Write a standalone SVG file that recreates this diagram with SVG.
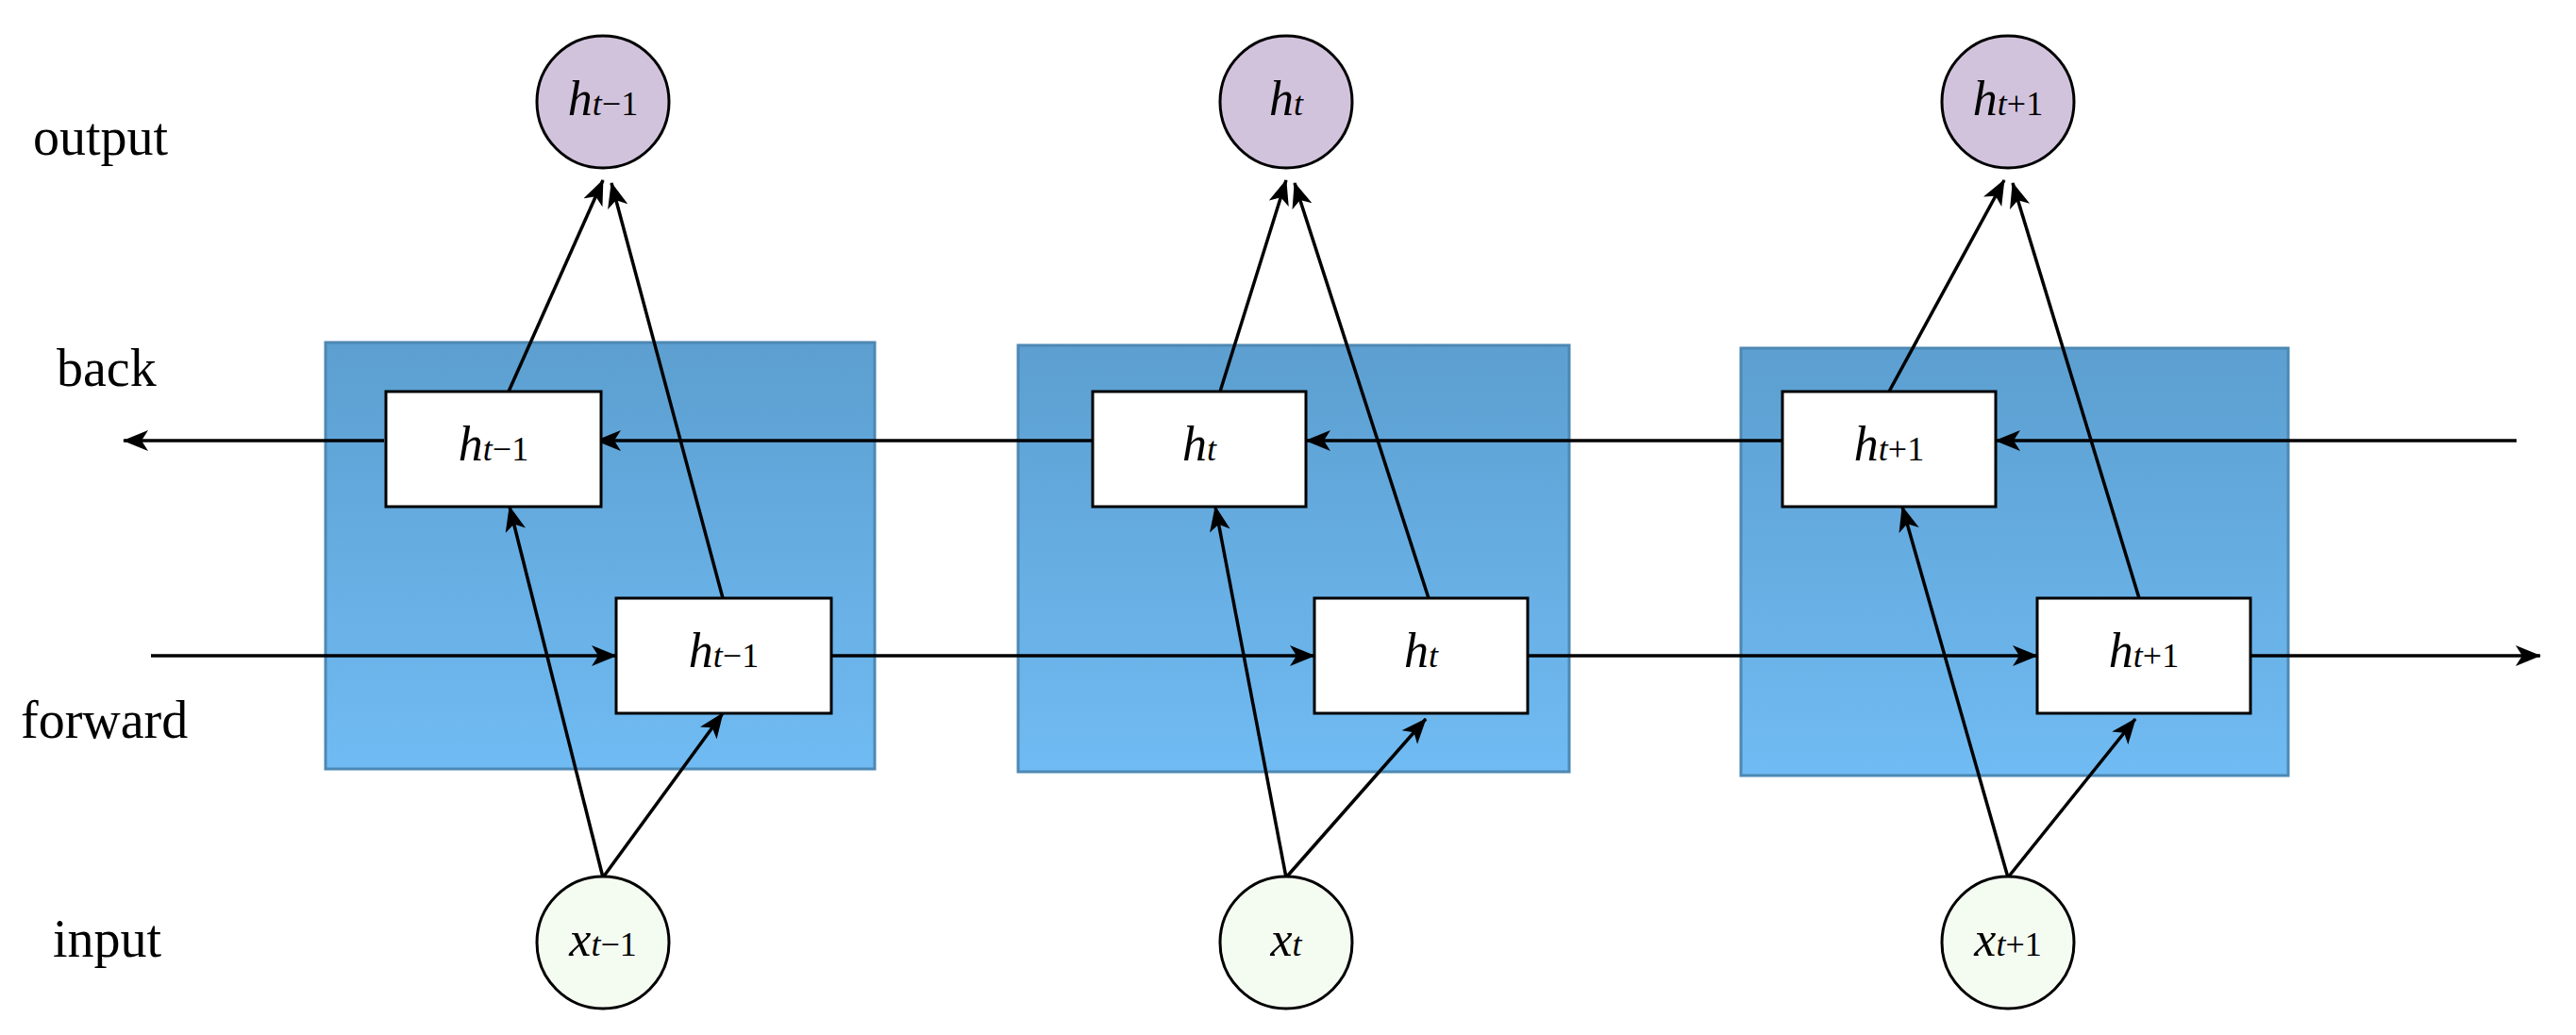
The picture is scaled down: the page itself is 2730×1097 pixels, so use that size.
<svg xmlns="http://www.w3.org/2000/svg" width="2730" height="1097" viewBox="0 0 2730 1097">
<style>
.lbl{font-family:"Liberation Serif",serif;font-size:56px;fill:#000}
.m{font-family:"Liberation Serif",serif;font-size:52px;font-style:italic;fill:#000}
.s{font-size:36px}
.u{font-style:normal}
.blk{stroke:#4d88b3;stroke-width:3;fill:url(#bg)}
.box{fill:#fff;stroke:#000;stroke-width:3}
.out{fill:#d2c3dd;stroke:#000;stroke-width:3}
.in{fill:#f4fbf1;stroke:#000;stroke-width:3}
.c{stroke:#000;stroke-width:3.5;fill:none;marker-end:url(#ah)}
</style>
<defs>
<linearGradient id="bg" x1="0" y1="0" x2="0" y2="1"><stop offset="0" stop-color="#5c9fd0"/><stop offset="1" stop-color="#70bbf3"/></linearGradient>
<marker id="ah" markerUnits="userSpaceOnUse" markerWidth="30" markerHeight="24" refX="26" refY="11" orient="auto"><path d="M0,0 L27,11 L0,22 L7,11 z" fill="#000"/></marker>
</defs>
<rect width="2730" height="1097" fill="#fff"/>
<g id="labels">
<text class="lbl" x="35" y="164">output</text>
<text class="lbl" x="60" y="409">back</text>
<text class="lbl" x="22" y="782">forward</text>
<text class="lbl" x="56" y="1014">input</text>
</g>
<g id="blocks">
<rect class="blk" x="345" y="363" width="582" height="452"/>
<rect class="blk" x="1079" y="366" width="584" height="452"/>
<rect class="blk" x="1845" y="369" width="580" height="453"/>
</g>
<g id="connectors">
<line class="c" x1="2667" y1="467" x2="2115" y2="467"/>
<line class="c" x1="1889" y1="467" x2="1384" y2="467"/>
<line class="c" x1="1158" y1="467" x2="632" y2="467"/>
<line class="c" x1="407" y1="467" x2="131" y2="467"/>
<line class="c" x1="160" y1="695" x2="653" y2="695"/>
<line class="c" x1="881" y1="695" x2="1393" y2="695"/>
<line class="c" x1="1619" y1="695" x2="2159" y2="695"/>
<line class="c" x1="2385" y1="695" x2="2692" y2="695"/>
<line class="c" x1="539" y1="415" x2="639" y2="191"/>
<line class="c" x1="766" y1="634" x2="648" y2="194"/>
<line class="c" x1="639" y1="930" x2="540" y2="537"/>
<line class="c" x1="639" y1="930" x2="766" y2="756"/>
<line class="c" x1="1293" y1="415" x2="1363" y2="191"/>
<line class="c" x1="1514" y1="634" x2="1372" y2="194"/>
<line class="c" x1="1363" y1="930" x2="1288" y2="537"/>
<line class="c" x1="1363" y1="930" x2="1511" y2="762"/>
<line class="c" x1="2002" y1="415" x2="2124" y2="191"/>
<line class="c" x1="2267" y1="634" x2="2133" y2="194"/>
<line class="c" x1="2128" y1="930" x2="2016" y2="537"/>
<line class="c" x1="2128" y1="930" x2="2263" y2="762"/>
</g>
<g id="col1">
<g id="out1"><circle class="out" cx="639" cy="108" r="70"/><text class="m" x="639" y="122" text-anchor="middle">h<tspan class="s">t<tspan class="u">−1</tspan></tspan></text></g>
<g id="back1"><rect class="box" x="409" y="415" width="228" height="122"/><text class="m" x="523" y="488" text-anchor="middle">h<tspan class="s">t<tspan class="u">−1</tspan></tspan></text></g>
<g id="fwd1"><rect class="box" x="653" y="634" width="228" height="122"/><text class="m" x="767" y="707" text-anchor="middle">h<tspan class="s">t<tspan class="u">−1</tspan></tspan></text></g>
<g id="in1"><circle class="in" cx="639" cy="999" r="70"/><text class="m" x="639" y="1013" text-anchor="middle">x<tspan class="s">t<tspan class="u">−1</tspan></tspan></text></g>
</g>
<g id="col2">
<g id="out2"><circle class="out" cx="1363" cy="108" r="70"/><text class="m" x="1363" y="122" text-anchor="middle">h<tspan class="s">t</tspan></text></g>
<g id="back2"><rect class="box" x="1158" y="415" width="226" height="122"/><text class="m" x="1271" y="488" text-anchor="middle">h<tspan class="s">t</tspan></text></g>
<g id="fwd2"><rect class="box" x="1393" y="634" width="226" height="122"/><text class="m" x="1506" y="707" text-anchor="middle">h<tspan class="s">t</tspan></text></g>
<g id="in2"><circle class="in" cx="1363" cy="999" r="70"/><text class="m" x="1363" y="1013" text-anchor="middle">x<tspan class="s">t</tspan></text></g>
</g>
<g id="col3">
<g id="out3"><circle class="out" cx="2128" cy="108" r="70"/><text class="m" x="2128" y="122" text-anchor="middle">h<tspan class="s">t<tspan class="u">+1</tspan></tspan></text></g>
<g id="back3"><rect class="box" x="1889" y="415" width="226" height="122"/><text class="m" x="2002" y="488" text-anchor="middle">h<tspan class="s">t<tspan class="u">+1</tspan></tspan></text></g>
<g id="fwd3"><rect class="box" x="2159" y="634" width="226" height="122"/><text class="m" x="2272" y="707" text-anchor="middle">h<tspan class="s">t<tspan class="u">+1</tspan></tspan></text></g>
<g id="in3"><circle class="in" cx="2128" cy="999" r="70"/><text class="m" x="2128" y="1013" text-anchor="middle">x<tspan class="s">t<tspan class="u">+1</tspan></tspan></text></g>
</g>
</svg>
